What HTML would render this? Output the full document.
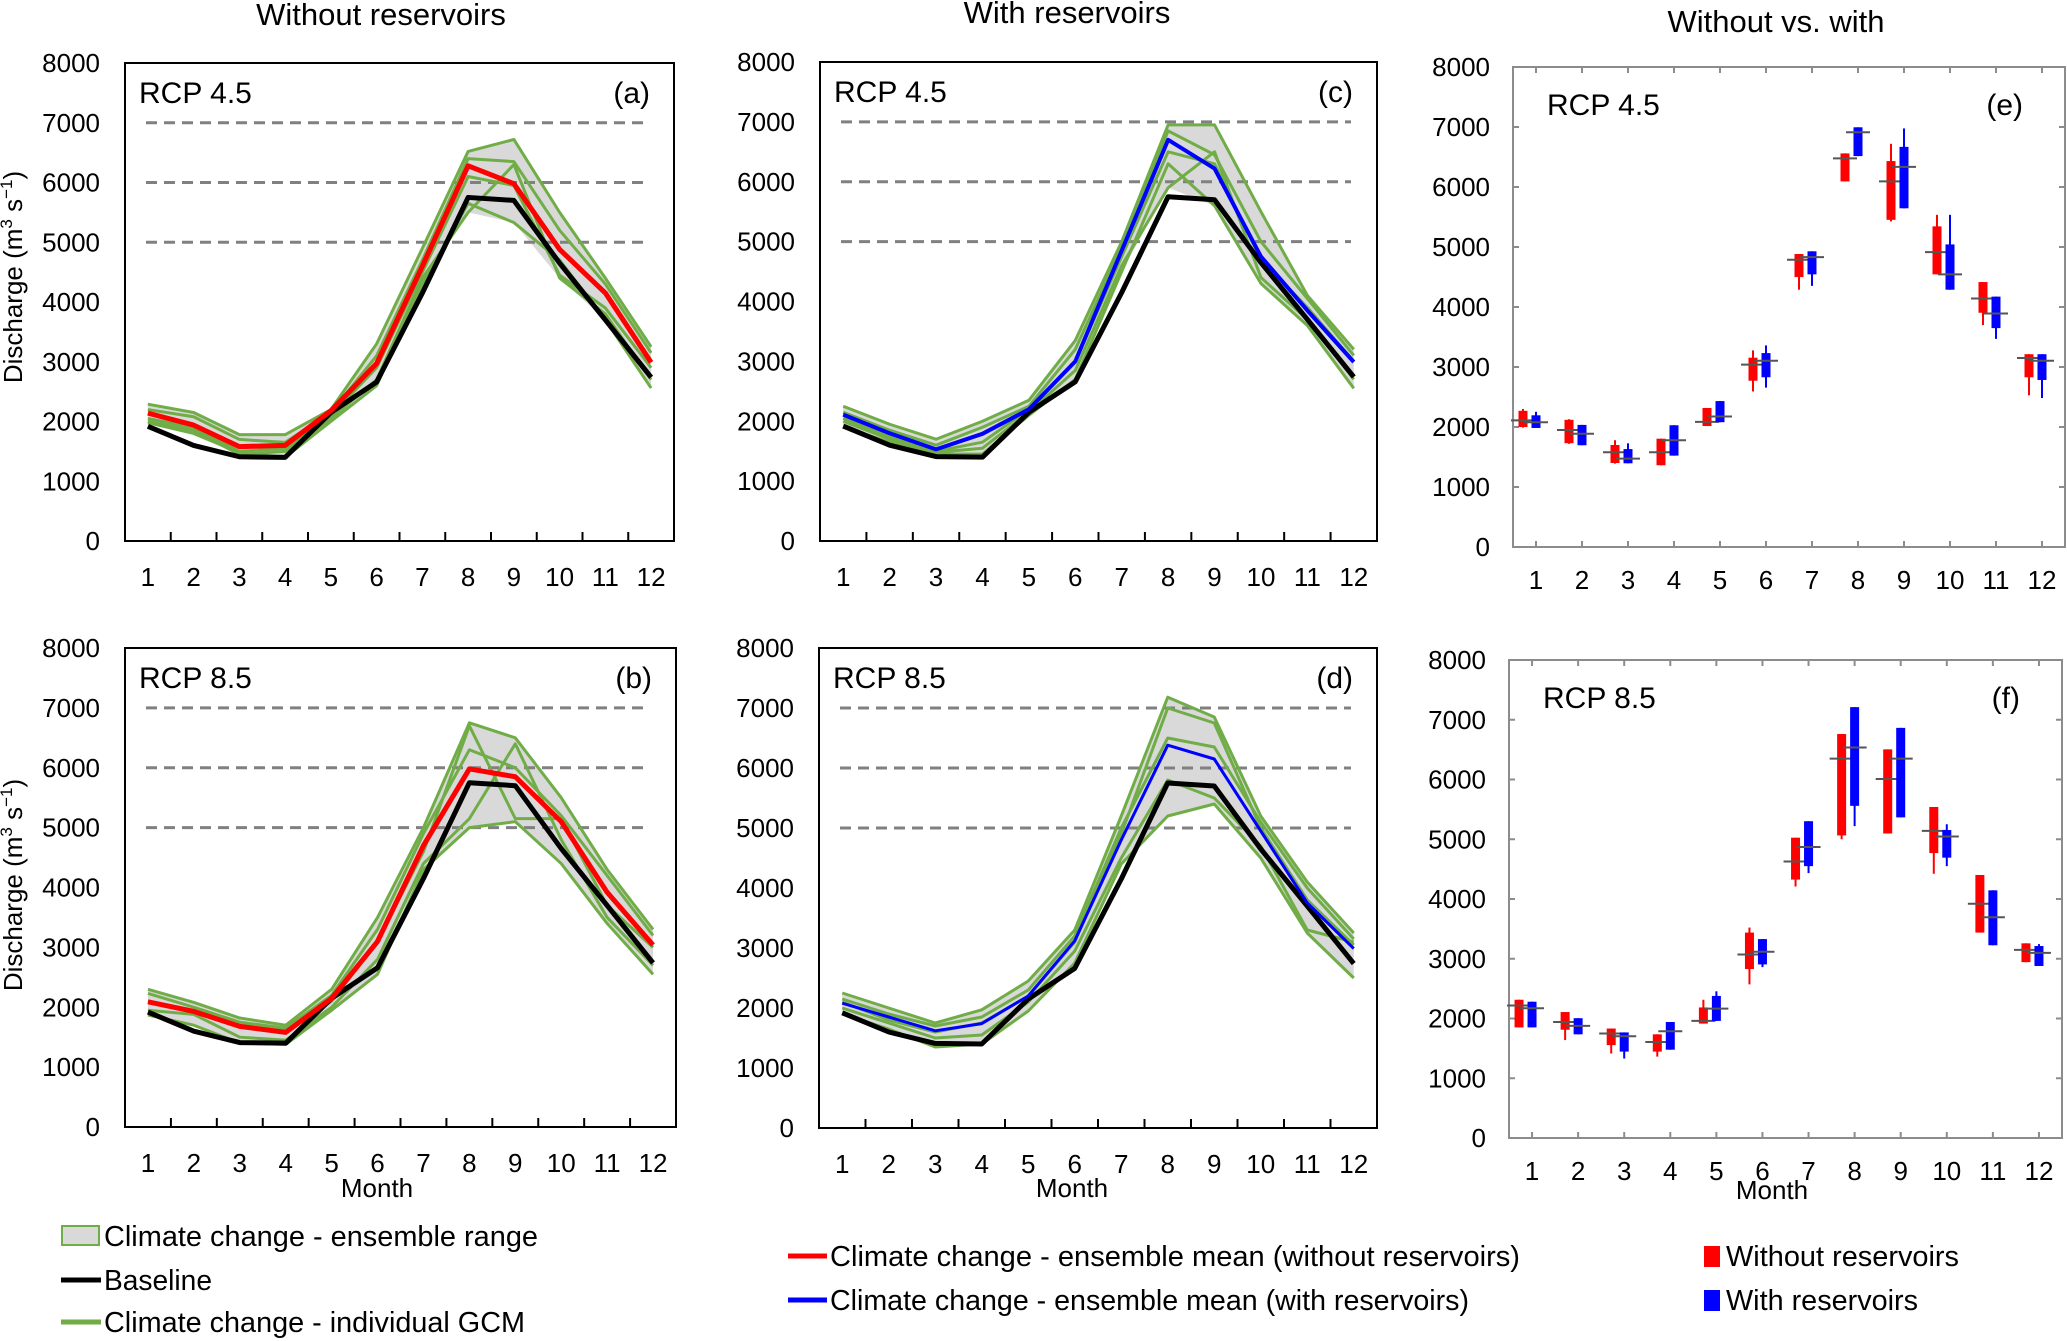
<!DOCTYPE html>
<html><head><meta charset="utf-8"><title>Discharge chart</title>
<style>
html,body{margin:0;padding:0;background:#fff;}
svg{display:block;font-family:"Liberation Sans",Arial,sans-serif;}
</style></head>
<body>
<svg id="chart" xmlns="http://www.w3.org/2000/svg" width="2067" height="1341" viewBox="0 0 2067 1341">
<rect x="0" y="0" width="2067" height="1341" fill="#fff"/>
<text x="381" y="25" font-size="31" text-anchor="middle">Without reservoirs</text>
<text x="1067" y="23" font-size="31" text-anchor="middle">With reservoirs</text>
<text x="1776" y="32" font-size="31" text-anchor="middle">Without vs. with</text>
<text transform="translate(22,277) rotate(-90)" font-size="26" text-anchor="middle">Discharge (m<tspan font-size="17" dy="-10">3</tspan><tspan dy="10"> s</tspan><tspan font-size="17" dy="-10">−1</tspan><tspan dy="10">)</tspan></text>
<text transform="translate(22,885) rotate(-90)" font-size="26" text-anchor="middle">Discharge (m<tspan font-size="17" dy="-10">3</tspan><tspan dy="10"> s</tspan><tspan font-size="17" dy="-10">−1</tspan><tspan dy="10">)</tspan></text>
<text x="377" y="1197" font-size="26" text-anchor="middle">Month</text>
<text x="1072" y="1197" font-size="26" text-anchor="middle">Month</text>
<text x="1772" y="1199" font-size="26" text-anchor="middle">Month</text>
<g id="panels"></g>
<g>
  <rect x="62" y="1226" width="37" height="19" fill="#d9d9d9" stroke="#70ad47" stroke-width="2"/>
  <text x="104" y="1246" font-size="29" textLength="434" lengthAdjust="spacingAndGlyphs">Climate change - ensemble range</text>
  <line x1="61" y1="1280" x2="101" y2="1280" stroke="#000" stroke-width="5"/>
  <text x="104" y="1290" font-size="29" textLength="108" lengthAdjust="spacingAndGlyphs">Baseline</text>
  <line x1="61" y1="1322" x2="101" y2="1322" stroke="#70ad47" stroke-width="5"/>
  <text x="104" y="1332" font-size="29" textLength="421" lengthAdjust="spacingAndGlyphs">Climate change - individual GCM</text>
</g>
<g>
  <line x1="788" y1="1256" x2="827" y2="1256" stroke="#ff0000" stroke-width="5"/>
  <text x="830" y="1266" font-size="29" textLength="690" lengthAdjust="spacingAndGlyphs">Climate change - ensemble mean (without reservoirs)</text>
  <line x1="788" y1="1300" x2="827" y2="1300" stroke="#0000ff" stroke-width="5"/>
  <text x="830" y="1310" font-size="29" textLength="639" lengthAdjust="spacingAndGlyphs">Climate change - ensemble mean (with reservoirs)</text>
</g>
<g>
  <rect x="1704" y="1246" width="16" height="21" fill="#ff0000"/>
  <text x="1726" y="1266" font-size="29" textLength="233" lengthAdjust="spacingAndGlyphs">Without reservoirs</text>
  <rect x="1704" y="1290" width="16" height="21" fill="#0000ff"/>
  <text x="1726" y="1310" font-size="29" textLength="192" lengthAdjust="spacingAndGlyphs">With reservoirs</text>
</g>
</svg>
<script>
const monthLabels=["1","2","3","4","5","6","7","8","9","10","11","12"];
const yTickValues=[0,1000,2000,3000,4000,5000,6000,7000,8000];
const refLines=[5000,6000,7000];
const baseline=[1920,1600,1410,1400,2150,2660,4150,5750,5700,4650,3700,2740];
// panel a: RCP4.5 without reservoirs
const meanA=[2140,1940,1580,1600,2180,2970,4600,6280,5980,4880,4150,2990];
const gcmA1=[2290,2150,1780,1780,2200,3300,4900,6520,6720,5500,4400,3250];
const gcmA2=[2200,2080,1700,1650,2150,3100,4700,6400,6350,5200,4300,3150];
const gcmA3=[2050,1900,1500,1550,2100,2900,4500,6100,5950,4450,3900,2900];
const gcmA4=[2000,1850,1450,1500,2050,2700,4400,5500,6300,4400,3800,2700];
const gcmA5=[1980,1800,1480,1400,2000,2600,4300,5650,5330,4700,3700,2560];
// panel b: RCP8.5 without reservoirs
const meanB=[2090,1930,1680,1580,2150,3100,4700,5980,5850,5100,3920,3040];
const gcmB1=[2300,2080,1820,1700,2300,3500,5000,6750,6500,5500,4300,3300];
const gcmB2=[2230,2000,1750,1650,2200,3300,4900,6300,6000,5200,4200,3200];
const gcmB3=[2100,1950,1700,1600,2100,3100,4600,6700,5150,5150,3700,3000];
const gcmB4=[1950,1880,1500,1450,2000,2800,4400,5150,6400,4800,3500,2700];
const gcmB5=[1870,1700,1400,1380,1950,2550,4300,5000,5100,4400,3400,2550];
// panel c: RCP4.5 with reservoirs
const meanC=[2110,1800,1530,1790,2200,3000,4850,6700,6220,4750,3850,2990];
const gcmC1=[2250,1950,1700,2000,2350,3350,5000,6950,6950,5500,4100,3200];
const gcmC2=[2150,1850,1600,1900,2250,3200,4900,6850,6450,5000,4050,3100];
const gcmC3=[2050,1750,1500,1650,2200,3000,4750,6500,6300,4700,3900,3000];
const gcmC4=[2000,1700,1480,1550,2150,2850,4600,5900,6500,4400,3700,2700];
const gcmC5=[1900,1650,1450,1450,2100,2700,4500,6300,5600,4300,3600,2550];
// panel d: RCP8.5 with reservoirs
const meanD=[2080,1850,1620,1740,2200,3120,4800,6380,6150,4950,3750,2990];
const gcmD1=[2250,2000,1750,1970,2450,3300,5200,7180,6850,5200,4100,3250];
const gcmD2=[2150,1900,1700,1850,2300,3200,5000,6500,6350,5100,4000,3150];
const gcmD3=[2100,1800,1600,1750,2200,3100,4900,7000,6750,5000,3800,3050];
const gcmD4=[2000,1750,1500,1550,2100,2950,4500,5800,5500,4700,3300,3100];
const gcmD5=[1900,1650,1350,1400,1950,2750,4400,5200,5400,4500,3250,2500];
// panel e (RCP4.5) box stats: without reservoirs
const eRedWhiskLo=[1990,1720,1390,1363,2016,2592,4288,6093,5427,4544,3699,2528];
const eRedBoxLo=[2000,1730,1400,1363,2016,2771,4499,6093,5453,4544,3904,2829];
const eRedBoxHi=[2270,2120,1700,1805,2317,3155,4883,6560,6432,5344,4416,3213];
const eRedWhiskHi=[2300,2130,1780,1805,2317,3277,4883,6560,6720,5536,4416,3213];
const eRedMean=[2110,1950,1580,1580,2086,3040,4787,6477,6093,4915,4141,3149];
// panel e: with reservoirs
const eBlueWhiskLo=[1984,1696,1395,1523,2080,2656,4352,6515,5645,4288,3469,2483];
const eBlueBoxLo=[1984,1696,1395,1523,2080,2829,4544,6515,5645,4288,3648,2784];
const eBlueBoxHi=[2195,2035,1632,2029,2432,3232,4928,6995,6669,5043,4173,3213];
const eBlueWhiskHi=[2253,2035,1728,2029,2432,3360,4928,6995,6976,5536,4173,3213];
const eBlueMean=[2080,1888,1472,1779,2176,3104,4832,6912,6336,4544,3891,3104];
// panel f (RCP8.5): without reservoirs
const fRedWhiskLo=[1851,1639,1414,1362,1915,2571,4209,5000,5096,4422,3438,2943];
const fRedBoxLo=[1851,1812,1555,1446,1915,2828,4325,5064,5096,4769,3438,2943];
const fRedBoxHi=[2314,2108,1832,1735,2185,3438,5026,6761,6504,5540,4402,3258];
const fRedWhiskHi=[2314,2108,1832,1735,2314,3522,5026,6761,6504,5540,4402,3258];
const fRedMean=[2217,1941,1748,1607,1960,3072,4627,6350,6009,5141,3920,3149];
// panel f: with reservoirs
const fBlueWhiskLo=[1851,1735,1330,1478,1960,2860,4434,5219,5366,4550,3226,2879];
const fBlueBoxLo=[1851,1735,1446,1478,1960,2905,4550,5559,5366,4692,3226,2879];
const fBlueBoxHi=[2281,2005,1767,1941,2378,3329,5302,7211,6864,5154,4145,3213];
const fBlueWhiskHi=[2281,2005,1767,1941,2455,3329,5302,7211,6864,5251,4145,3245];
const fBlueMean=[2172,1877,1703,1787,2166,3117,4871,6536,6350,5045,3695,3098];

const NS="http://www.w3.org/2000/svg";
const root=document.getElementById('panels');
function mk(tag,attrs,parent){const e=document.createElementNS(NS,tag);for(const k in attrs)e.setAttribute(k,attrs[k]);(parent||root).appendChild(e);return e;}

function axes(L,R,T,B){
  const w=(R-L)/12;
  return {x:i=>L+(i+0.5)*w, y:v=>B-v/8000*(B-T), w:w};
}

function linePanel(id,L,R,T,B,rcp,letter,gcms,mean,meanColor,meanW){
  const g=mk('g',{});
  
  
  const ax=axes(L,R,T,B);
  const hi=monthLabels.map((_,i)=>Math.max(...gcms.map(s=>s[i])));
  const lo=monthLabels.map((_,i)=>Math.min(...gcms.map(s=>s[i])));
  const pts=hi.map((v,i)=>ax.x(i)+','+ax.y(v)).concat(lo.map((v,i)=>ax.x(i)+','+ax.y(v)).reverse());
  const poly=mk('polygon',{points:pts.join(' '),fill:'#d9d9d9',stroke:'none'},g);
  
  
  refLines.forEach(v=>{
    const l=mk('line',{x1:L+21,x2:R-26,y1:ax.y(v),y2:ax.y(v),stroke:'#808080','stroke-width':3,'stroke-dasharray':'11,7'},g);
    
    
  });
  gcms.forEach((s,k)=>{
    const p=mk('polyline',{points:s.map((v,i)=>ax.x(i)+','+ax.y(v)).join(' '),fill:'none',stroke:'#70ad47','stroke-width':3,'stroke-linejoin':'round'},g);
    
    
  });
  const bl=mk('polyline',{points:baseline.map((v,i)=>ax.x(i)+','+ax.y(v)).join(' '),fill:'none',stroke:'#000','stroke-width':5,'stroke-linejoin':'round'},g);
  
  
  const ml=mk('polyline',{points:mean.map((v,i)=>ax.x(i)+','+ax.y(v)).join(' '),fill:'none',stroke:meanColor,'stroke-width':meanW,'stroke-linejoin':'round'},g);
  
  
  const box=mk('rect',{x:L,y:T,width:R-L,height:B-T,fill:'none',stroke:'#000','stroke-width':2},g);
  
  
  for(let i=1;i<12;i++){
    const t=mk('line',{x1:L+i*ax.w,x2:L+i*ax.w,y1:B,y2:B-9,stroke:'#000','stroke-width':2},g);
    
    
  }
  yTickValues.forEach(v=>{
    const t=mk('text',{x:L-25,y:ax.y(v)+9,'font-size':26,'text-anchor':'end'},g);
    t.textContent=String(v);
    
    
  });
  monthLabels.forEach((m,i)=>{
    const t=mk('text',{x:ax.x(i),y:B+45,'font-size':26,'text-anchor':'middle'},g);
    t.textContent=m;
    
    
  });
  const r=mk('text',{x:L+14,y:T+40,'font-size':30},g);
  r.textContent=rcp;
  
  
  const le=mk('text',{x:R-24,y:T+40,'font-size':30,'text-anchor':'end'},g);
  le.textContent='('+letter+')';
  
  
}

function boxPanel(id,L,R,T,B,rcp,letter,red,blue){
  const g=mk('g',{});
  
  
  const ax=axes(L,R,T,B);
  const frame=mk('rect',{x:L,y:T,width:R-L,height:B-T,fill:'none',stroke:'#8c8c8c','stroke-width':2},g);
  
  
  monthLabels.forEach((m,i)=>{
    const t1=mk('line',{x1:ax.x(i),x2:ax.x(i),y1:T,y2:T+6,stroke:'#8c8c8c','stroke-width':2},g);
    
    
    const t2=mk('line',{x1:ax.x(i),x2:ax.x(i),y1:B,y2:B-6,stroke:'#8c8c8c','stroke-width':2},g);
    
    
    const t=mk('text',{x:ax.x(i),y:B+42,'font-size':26,'text-anchor':'middle'},g);
    t.textContent=m;
    
    
  });
  yTickValues.forEach(v=>{
    const a=mk('line',{x1:L,x2:L+6,y1:ax.y(v),y2:ax.y(v),stroke:'#8c8c8c','stroke-width':2},g);
    
    
    const b=mk('line',{x1:R,x2:R-6,y1:ax.y(v),y2:ax.y(v),stroke:'#8c8c8c','stroke-width':2},g);
    
    
    const t=mk('text',{x:L-23,y:ax.y(v)+9,'font-size':26,'text-anchor':'end'},g);
    t.textContent=String(v);
    
    
  });
  [[red,'#ff0000',-13,'without'],[blue,'#0000ff',0,'with']].forEach(([s,col,off,nm])=>{
    monthLabels.forEach((m,i)=>{
      const cx=ax.x(i)+off;
      const wl=mk('line',{x1:cx,x2:cx,y1:ax.y(s[0][i]),y2:ax.y(s[3][i]),stroke:col,'stroke-width':2},g);
      
      
      const bx=mk('rect',{x:cx-4.5,y:ax.y(s[2][i]),width:9,height:ax.y(s[1][i])-ax.y(s[2][i]),fill:col},g);
      
      
      const mn=mk('line',{x1:cx-12,x2:cx+12,y1:ax.y(s[4][i]),y2:ax.y(s[4][i]),stroke:'#555','stroke-width':2},g);
      
      
    });
  });
  const r=mk('text',{x:L+34,y:T+48,'font-size':30},g);
  r.textContent=rcp;
  
  
  const le=mk('text',{x:R-42,y:T+48,'font-size':30,'text-anchor':'end'},g);
  le.textContent='('+letter+')';
  
  
}

linePanel('a',125,674,63,541,'RCP 4.5','a',[gcmA1,gcmA2,gcmA3,gcmA4,gcmA5],meanA,'#ff0000',5);
linePanel('b',125,676,648,1127,'RCP 8.5','b',[gcmB1,gcmB2,gcmB3,gcmB4,gcmB5],meanB,'#ff0000',5);
linePanel('c',820,1377,62,541,'RCP 4.5','c',[gcmC1,gcmC2,gcmC3,gcmC4,gcmC5],meanC,'#0000ff',4);
linePanel('d',819,1377,648,1128,'RCP 8.5','d',[gcmD1,gcmD2,gcmD3,gcmD4,gcmD5],meanD,'#0000ff',3);
boxPanel('e',1513,2065,67,547,'RCP 4.5','e',
  [eRedWhiskLo,eRedBoxLo,eRedBoxHi,eRedWhiskHi,eRedMean],
  [eBlueWhiskLo,eBlueBoxLo,eBlueBoxHi,eBlueWhiskHi,eBlueMean]);
boxPanel('f',1509,2062,660,1138,'RCP 8.5','f',
  [fRedWhiskLo,fRedBoxLo,fRedBoxHi,fRedWhiskHi,fRedMean],
  [fBlueWhiskLo,fBlueBoxLo,fBlueBoxHi,fBlueWhiskHi,fBlueMean]);
</script>
</body></html>
